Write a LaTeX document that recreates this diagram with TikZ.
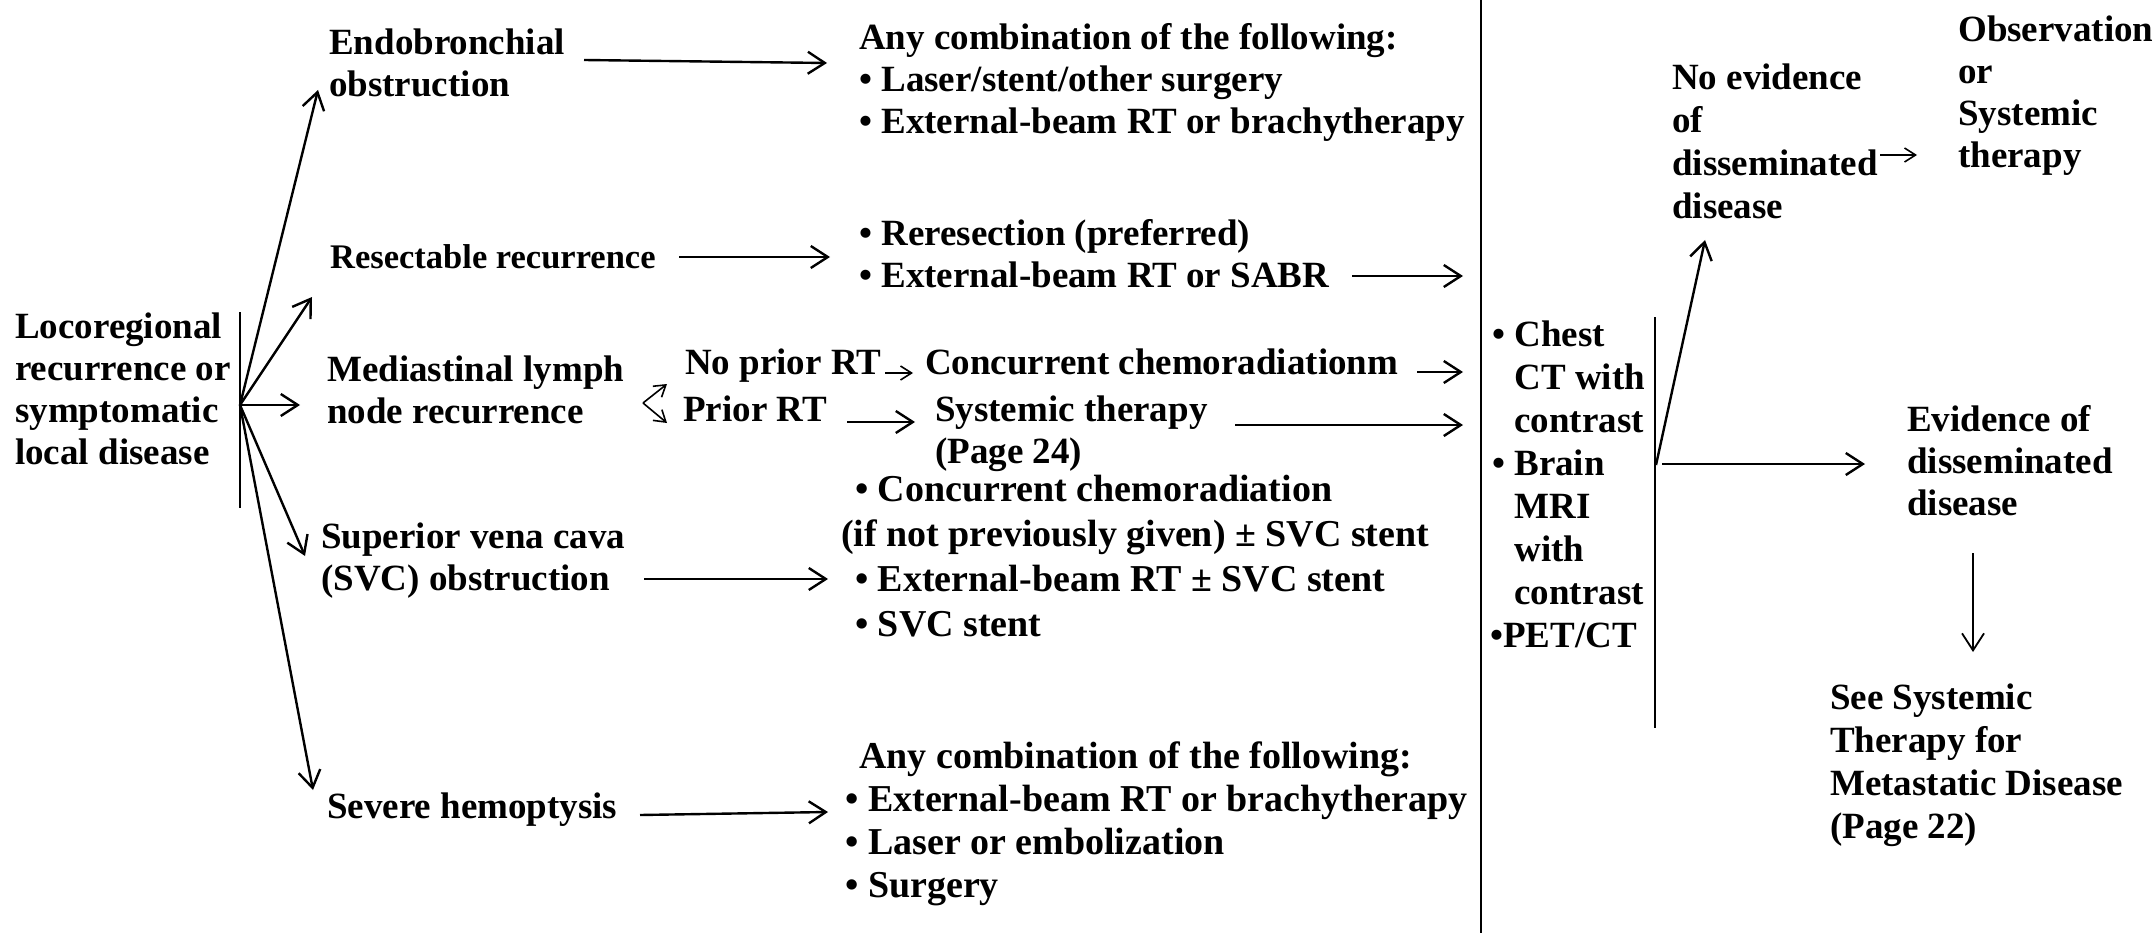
\documentclass[tikz,border=0pt]{standalone}
\usepackage{fontspec}
\setmainfont{Liberation Serif}
\usetikzlibrary{arrows.meta,calc}
% first-line strut: fixes the distance from a node's top to its first baseline
\newcommand\fstrut{\rule{0pt}{29pt}}
% indent of a continuation line under a bullet
\newcommand\ind{\hspace*{2pt}\hphantom{• }}

\begin{document}
\begin{tikzpicture}[x=1pt,y=-1pt,
  txt/.style={anchor=north west,inner sep=0pt,align=left,
              font=\bfseries\fontsize{37}{42}\selectfont},
  arr/.style={line width=2.4pt,-{Straight Barb[length=17pt,width=22pt]}},
  thinarr/.style={line width=1.8pt,-{Straight Barb[length=17pt,width=22pt]}},
  sarr/.style={line width=1.6pt,-{Straight Barb[length=11pt,width=14pt]}},
  sep/.style={line width=2pt}]
\useasboundingbox (0,0) rectangle (2154,933);

% ---- starting situation and its five branches
\node[txt] (loco) at (15,309) {\fstrut Locoregional\\recurrence or\\symptomatic\\local disease};
\coordinate (hub) at (240,405);
\draw[sep] ($(hub)+(0,-93)$) -- ($(hub)+(0,103)$);

\node[txt] (endo)   at (329,25)  {\fstrut Endobronchial\\obstruction};
\node[txt,font=\bfseries\fontsize{34.5}{42}\selectfont] (resect) at (330,239) {\fstrut Resectable recurrence};
\node[txt] (medi)   at (327,352) {\fstrut Mediastinal lymph\\node recurrence};
\node[txt] (svc)    at (321,519) {\fstrut Superior vena cava\\(SVC) obstruction};
\node[txt] (hemo)   at (327,789) {\fstrut Severe hemoptysis};

\draw[arr] (hub) -- ($(endo.north west)+(-11,65)$);
\draw[arr] (hub) -- ($(resect.north west)+(-18,58)$);
\draw[arr] (hub) -- ($(medi.north west)+(-27,53)$);
\draw[arr] (hub) -- ($(svc.north west)+(-16,37)$);
\draw[arr] (hub) -- ($(hemo.north west)+(-14,1)$);

% ---- treatments
\node[txt] (c1) at (859,20) {\fstrut Any combination of the following:\\• Laser/stent/other surgery\\• External-beam RT or brachytherapy};
\node[txt] (c2) at (859,216) {\fstrut • Reresection (preferred)\\• External-beam RT or SABR};
\node[txt] (nopr)  at (685,345) {\fstrut No prior RT};
\node[txt] (prior) at (683,392) {\fstrut Prior RT};
\node[txt] (cc)    at (925,345) {\fstrut Concurrent chemoradiationm};
\node[txt] (sys)   at (935,392) {\fstrut Systemic therapy\\(Page 24)};
\node[txt,font=\bfseries\fontsize{38}{45}\selectfont] (c4) at (841,472)
  {\fstrut\hspace*{14pt}• Concurrent chemoradiation\\(if not previously given) ± SVC stent\\\hspace*{14pt}• External-beam RT ± SVC stent\\\hspace*{14pt}• SVC stent};
\node[txt,font=\bfseries\fontsize{38}{43}\selectfont] (c5) at (845,739)
  {\fstrut\hspace*{14pt}Any combination of the following:\\• External-beam RT or brachytherapy\\• Laser or embolization\\• Surgery};

\draw[arr] ($(endo.north west)+(255,35)$) -- ($(c1.north west)+(-32,43)$);
\draw[arr] ($(resect.north west)+(349,18)$) -- ($(c2.north west)+(-29,41)$);
\coordinate (msplit) at ($(medi.north west)+(316,51)$);
\draw[sarr] (msplit) -- ($(nopr.north west)+(-18,39)$);
\draw[sarr] (msplit) -- ($(prior.north west)+(-16,31)$);
\draw[sarr] ($(nopr.north west)+(200,28)$) -- ($(cc.north west)+(-12,28)$);
\draw[arr] ($(prior.north west)+(164,30)$) -- ($(sys.north west)+(-20,30)$);
\draw[arr] ($(svc.north west)+(323,60)$) -- ($(c4.north west)+(-13,107)$);
\draw[arr] ($(hemo.north west)+(313,26)$) -- ($(c5.north west)+(-17,73)$);

% ---- separator and work-up
\draw[sep] (1481,0) -- (1481,933);
\node[txt,font=\bfseries\fontsize{37}{43}\selectfont] (tests) at (1490,317)
  {\fstrut\hspace*{2pt}• Chest\\\ind CT with\\\ind contrast\\\hspace*{2pt}• Brain\\\ind MRI\\\ind with\\\ind contrast\\•PET/CT};

\draw[arr] ($(c2.north west)+(493,60)$) -- ($(tests.north west)+(-27,-41)$);
\draw[arr] ($(cc.north west)+(492,27)$) -- ($(tests.north west)+(-27,55)$);
\draw[arr] ($(sys.north west)+(300,33)$) -- ($(tests.north west)+(-27,108)$);

% ---- outcome of the work-up
\coordinate (hub2) at (1656,465);
\draw[sep] (1655,317) -- (1655,728);
\node[txt,font=\bfseries\fontsize{37}{43}\selectfont] (ne) at (1672,60) {\fstrut No evidence\\of\\disseminated\\disease};
\node[txt] (obs) at (1958,12)  {\fstrut Observation\\or\\Systemic\\therapy};
\node[txt] (ev)  at (1907,402) {\fstrut Evidence of\\disseminated\\disease};
\node[txt,font=\bfseries\fontsize{37}{43}\selectfont] (see) at (1830,680)
  {\fstrut See Systemic\\Therapy for\\Metastatic Disease\\(Page 22)};

\draw[arr] (hub2) -- ($(ne.north west)+(33,180)$);
\draw[arr] ($(hub2)+(6,-1)$) -- ($(ev.north west)+(-42,62)$);
\draw[sarr] ($(ne.north west)+(208,95)$) -- ($(obs.north west)+(-41,143)$);
\draw[thinarr] ($(ev.north west)+(66,151)$) -- ($(see.north west)+(143,-28)$);
\end{tikzpicture}
\end{document}
